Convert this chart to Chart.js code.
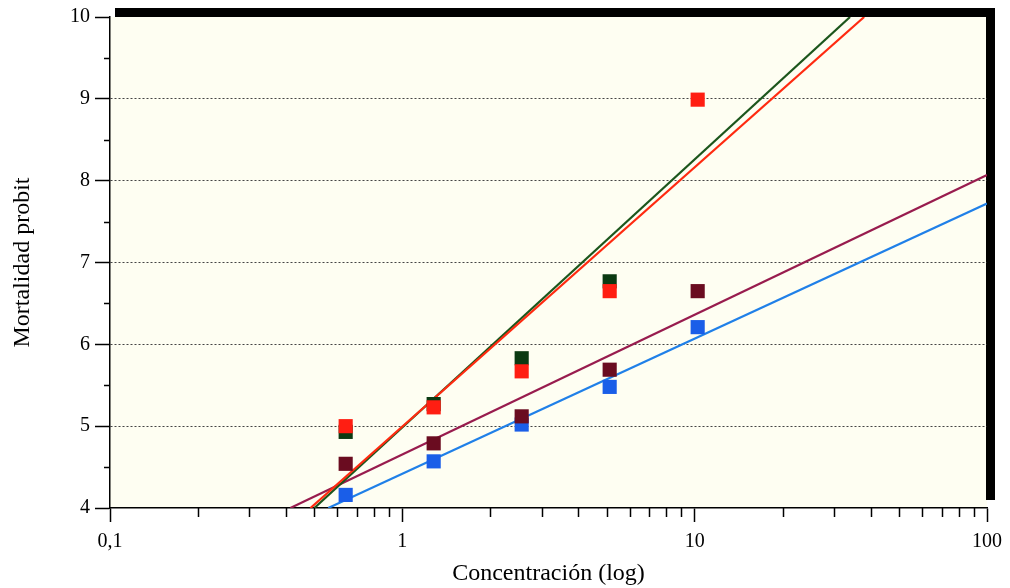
<!DOCTYPE html>
<html>
<head>
<meta charset="utf-8">
<script src="https://cdn.jsdelivr.net/npm/chart.js@4/dist/chart.umd.min.js"></script>
<style>
  html, body { margin: 0; padding: 0; background: #fff; }
  #wrap { width: 1010px; height: 588px; }
</style>
</head>
<body>
<div id="wrap"><canvas id="grafico" width="1010" height="588"></canvas></div>
<script>
// Concentraciones (escala log) y valores probit
const concentraciones = [0.64, 1.28, 2.56, 5.12, 10.24]
const probitRojo = [5.0, 5.23, 5.67, 6.65, 8.99]
const probitVerde = [4.93, 5.27, 5.83, 6.77, null]
const probitGranate = [4.54, 4.79, 5.12, 5.69, 6.65]
const probitAzul = [4.16, 4.57, 5.02, 5.48, 6.21]

// Rectas de regresión (extremos)
const rectaVerdeX = [0.50, 34.0]
const rectaVerdeY = [4, 10]
const rectaRojaX = [0.485, 38.0]
const rectaRojaY = [4, 10]
const rectaGranateX = [0.414, 100]
const rectaGranateY = [4, 8.07]
const rectaAzulX = [0.558, 100]
const rectaAzulY = [4, 7.72]

// Marcas de los ejes
const xTicksMayores = [0.1, 1, 10, 100]
const xTicksMenores = [0.2, 0.3, 0.4, 0.5, 0.6, 0.7, 0.8, 0.9,
  2, 3, 4, 5, 6, 7, 8, 9, 20, 30, 40, 50, 60, 70, 80, 90]
const yTicksMenores = [4.5, 5.5, 6.5, 7.5, 8.5, 9.5]

const puntos = (xs, ys) => xs.map((x, i) => ({ x, y: ys[i] })).filter(p => p.y !== null)

const fuente = 'Liberation Serif, Times New Roman, serif'

const decoracion = {
  id: 'decoracion',
  beforeDraw(chart) {
    const { ctx, chartArea: a } = chart
    ctx.save()
    ctx.fillStyle = '#fefef2'
    ctx.fillRect(a.left, a.top, a.right - a.left, a.bottom - a.top)
    // marco negro grueso arriba y a la derecha
    ctx.fillStyle = '#000'
    ctx.fillRect(a.left + 5, a.top - 9, a.right - a.left + 3, 9)
    ctx.fillRect(a.right - 1, a.top - 9, 9, a.bottom - a.top + 1)
    ctx.restore()
  },
  afterDraw(chart) {
    const { ctx, chartArea: a, scales } = chart
    ctx.save()
    ctx.strokeStyle = '#000'
    ctx.lineWidth = 1.5
    ctx.beginPath()
    for (const v of xTicksMenores) {
      const px = Math.round(scales.x.getPixelForValue(v)) + 0.5
      ctx.moveTo(px, a.bottom)
      ctx.lineTo(px, a.bottom + 9)
    }
    for (const v of yTicksMenores) {
      const py = Math.round(scales.y.getPixelForValue(v)) + 0.5
      ctx.moveTo(a.left - 6, py)
      ctx.lineTo(a.left, py)
    }
    ctx.stroke()
    ctx.restore()
  }
}

const recta = (xs, ys, color) => ({
  type: 'line',
  data: puntos(xs, ys),
  borderColor: color,
  borderWidth: 2.2,
  pointRadius: 0,
  showLine: true,
  fill: false
})

const marcas = (ys, color) => ({
  type: 'scatter',
  data: puntos(concentraciones, ys),
  backgroundColor: color,
  borderColor: color,
  borderWidth: 0,
  pointStyle: 'rect',
  pointRadius: 10,
  pointHoverRadius: 10
})

new Chart(document.getElementById('grafico'), {
  type: 'scatter',
  data: {
    datasets: [
      marcas(probitRojo, '#ff1e12'),
      marcas(probitVerde, '#0b3a12'),
      marcas(probitGranate, '#6a0c20'),
      marcas(probitAzul, '#1a5ee8'),
      recta(rectaRojaX, rectaRojaY, '#ff2a10'),
      recta(rectaVerdeX, rectaVerdeY, '#1c561c'),
      recta(rectaGranateX, rectaGranateY, '#981c4e'),
      recta(rectaAzulX, rectaAzulY, '#2080e8')
    ]
  },
  options: {
    responsive: false,
    animation: false,
    layout: { padding: { top: 15, right: 23, left: 0, bottom: 0 } },
    plugins: { legend: { display: false }, tooltip: { enabled: false } },
    scales: {
      x: {
        type: 'logarithmic',
        min: 0.1,
        max: 100,
        afterBuildTicks: (scale) => { scale.ticks = xTicksMayores.map(v => ({ value: v })) },
        afterFit: (scale) => { scale.height = 80 },
        border: { display: true, color: '#000', width: 1.5 },
        grid: { drawOnChartArea: false, tickColor: '#000', tickLength: 14, tickWidth: 1.5 },
        ticks: {
          autoSkip: false,
          maxRotation: 0,
          padding: 8,
          color: '#000',
          font: { family: fuente, size: 20 },
          callback: (v) => (v === 0.1 ? '0,1' : String(v))
        },
        title: {
          display: true,
          text: 'Concentración (log)',
          color: '#000',
          font: { family: fuente, size: 24 },
          padding: { top: 2, bottom: 0 }
        }
      },
      y: {
        min: 4,
        max: 10,
        afterFit: (scale) => { scale.width = 110 },
        border: { display: true, color: '#000', width: 1.5, dash: [2, 2] },
        grid: {
          color: (c) => (c.tick && c.tick.value > 4 && c.tick.value < 10 ? '#444' : 'rgba(0,0,0,0)'),
          lineWidth: 1,
          tickColor: '#000',
          tickLength: 15,
          tickWidth: 1.5
        },
        ticks: {
          stepSize: 1,
          padding: 5,
          color: '#000',
          font: { family: fuente, size: 20 }
        },
        title: {
          display: true,
          text: 'Mortalidad probit',
          color: '#000',
          font: { family: fuente, size: 24 },
          padding: { top: 8, bottom: 0 }
        }
      }
    }
  },
  plugins: [decoracion]
})
</script>
</body>
</html>
